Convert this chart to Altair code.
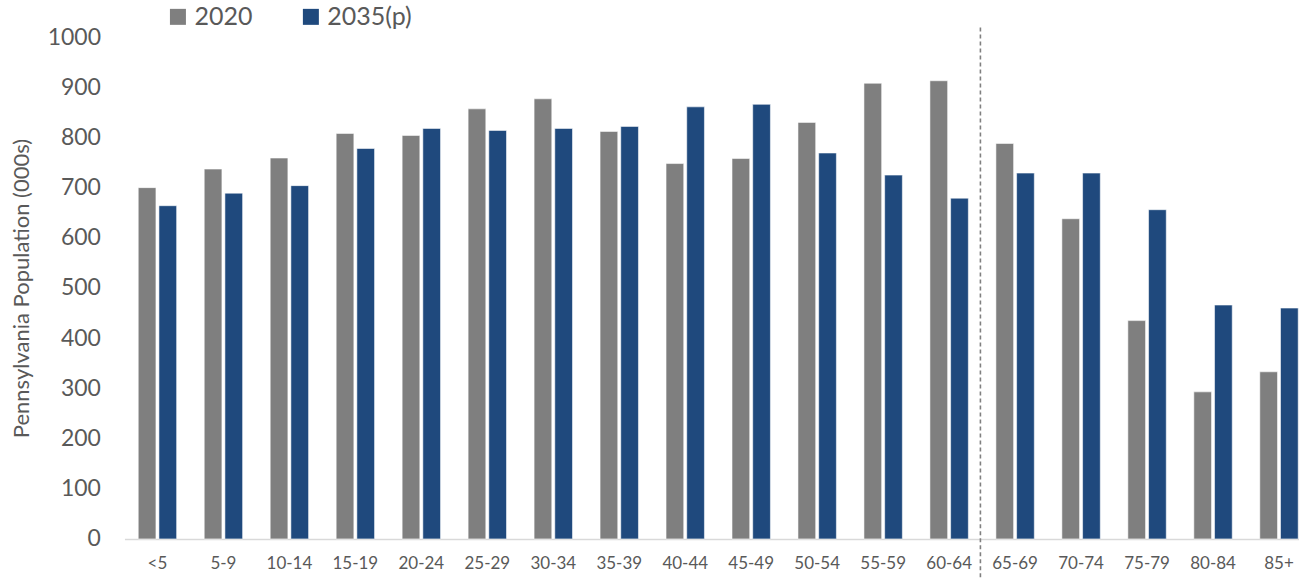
import altair as alt
import pandas as pd

# Pennsylvania population by age group, thousands
age_groups = ["<5", "5-9", "10-14", "15-19", "20-24", "25-29", "30-34", "35-39",
              "40-44", "45-49", "50-54", "55-59", "60-64", "65-69", "70-74",
              "75-79", "80-84", "85+"]
pop_2020 = [700, 737, 759, 808, 804, 857, 877, 812, 748, 758, 830, 908, 913,
            788, 638, 435, 293, 333]
pop_2035 = [664, 689, 704, 778, 818, 814, 818, 822, 861, 866, 769, 725, 679,
            729, 729, 656, 466, 460]
series = ["2020", "2035(p)"]
series_colors = ["#7f7f7f", "#1f497d"]
y_ticks = [0, 100, 200, 300, 400, 500, 600, 700, 800, 900, 1000]

# dashed separator before the 65+ age groups
divider_group = ["65-69"]
divider_top = [1019]
divider_bottom = [-80]

rows = []
for g, a, b in zip(age_groups, pop_2020, pop_2035):
    rows.append({"group": g, "series": series[0], "value": a})
    rows.append({"group": g, "series": series[1], "value": b})
bars_df = pd.DataFrame(rows)
divider_df = pd.DataFrame({"group": divider_group, "top": divider_top,
                           "bottom": divider_bottom})

FONT = "Lato"
TEXT = "#595959"
Y_TITLE = "Pennsylvania Population (000s)"

x_scale = alt.Scale(domain=age_groups, paddingInner=0.418, paddingOuter=0.209,
                    range=[0, 1188])
y_scale = alt.Scale(domain=[0, 1000], nice=False)

bars = alt.Chart(bars_df).mark_bar(
    stroke="#ffffff", strokeWidth=1, strokeOpacity=0.55
).encode(
    x=alt.X("group:N", scale=x_scale, sort=age_groups, title=None,
            axis=alt.Axis(labelAngle=0, labelFont=FONT, labelFontSize=17,
                          labelColor=TEXT, labelPadding=17, ticks=False,
                          domainColor="#d9d9d9", domainWidth=1.5, grid=False)),
    xOffset=alt.XOffset("series:N", sort=series,
                        scale=alt.Scale(paddingInner=0.145, paddingOuter=0)),
    y=alt.Y("value:Q", scale=y_scale, title=Y_TITLE,
            axis=alt.Axis(values=y_ticks, format="d", labelFont=FONT,
                          labelFontSize=23, labelColor=TEXT, labelPadding=24,
                          ticks=False, domain=False, grid=False, titleFont=FONT,
                          titleFontSize=22, titleFontWeight="normal",
                          titleColor=TEXT, titlePadding=14)),
    color=alt.Color("series:N", sort=series,
                    scale=alt.Scale(domain=series, range=series_colors),
                    legend=alt.Legend(orient="none", legendX=41, legendY=-33,
                                      direction="horizontal", title=None,
                                      symbolType="square", symbolSize=256,
                                      symbolStrokeWidth=0, labelFont=FONT,
                                      labelFontSize=25, labelColor=TEXT,
                                      labelOffset=4, columnPadding=45)),
)

divider = alt.Chart(divider_df).mark_rule(
    color="#808080", strokeWidth=1.6, strokeDash=[4, 3], xOffset=-15.5
).encode(
    x=alt.X("group:N", scale=x_scale, sort=age_groups, bandPosition=0, title=None),
    y=alt.Y("top:Q", scale=y_scale, title=Y_TITLE),
    y2="bottom:Q",
)

chart = alt.layer(bars, divider).properties(
    width=1175,
    height=502,
    autosize=alt.AutoSizeParams(type="none"),
    padding={"left": 124.5, "top": 37, "right": 0, "bottom": 40},
    background="white",
).configure_view(stroke=None)

chart.save("out.html", embed_options={"renderer": "svg", "actions": False})
